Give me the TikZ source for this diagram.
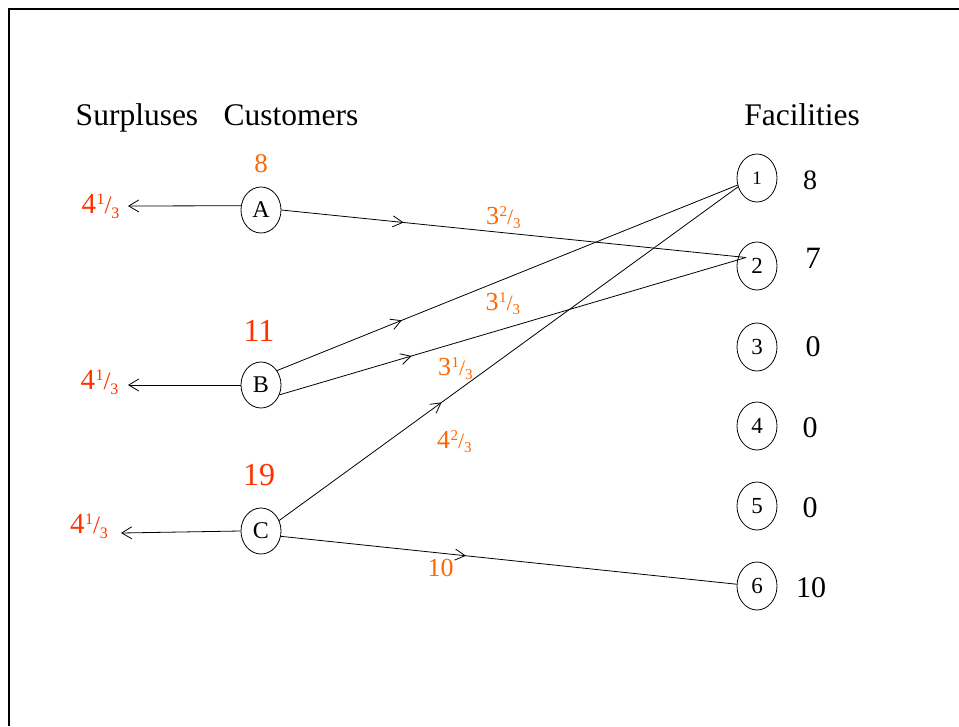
\documentclass[tikz,border=0pt]{standalone}
\usepackage{fontspec}
\setmainfont{Liberation Serif}
\usetikzlibrary{arrows.meta,decorations.markings,shapes.geometric,calc}
\definecolor{flowor}{RGB}{255,102,0}
\definecolor{surred}{RGB}{255,51,0}
% #1 big size, #2 small size, #3 slash size, #4 raise, #5 lower, #6 whole, #7 num, #8 den
\newcommand{\mixnum}[8]{{\fontsize{#1}{#1}\selectfont #6}\kern0.3pt{\fontsize{#2}{#2}\selectfont\raisebox{#4}{#7}}{\fontsize{#3}{#3}\selectfont /}{\fontsize{#2}{#2}\selectfont\raisebox{-#5}{#8}}}
\newcommand{\surp}[3]{\mixnum{29pt}{16pt}{25pt}{8.5pt}{5pt}{#1}{#2}{#3}}
\newcommand{\flw}[3]{\mixnum{26pt}{15pt}{22pt}{7.5pt}{4.5pt}{#1}{#2}{#3}}
\newcommand{\fsz}[1]{\fontsize{#1}{#1}\selectfont}
\begin{document}
\begin{tikzpicture}[x=1pt,y=-1pt,
  cust/.style={draw,ellipse,line width=0.8pt,minimum width=40pt,minimum height=46pt,inner sep=0pt,font=\fsz{24pt}},
  fac/.style={draw,ellipse,line width=0.8pt,minimum width=40pt,minimum height=48pt,inner sep=0pt,font=\fsz{23pt}},
  head/.style={font=\fsz{31.5pt},inner sep=0pt,anchor=base},
  txt/.style={inner sep=0pt,anchor=base},
  sur/.style={text=surred,inner sep=0pt,anchor=base west},
  flab/.style={text=flowor,inner sep=0pt,anchor=base west},
  link/.style={line width=0.8pt},
  midarr/.style={postaction={decorate,decoration={markings,mark=at position #1 with {\arrow{Straight Barb[length=10pt,width=11pt,line width=0.8pt]}}}}},
  outarr/.style={line width=0.8pt,-{Straight Barb[length=10pt,width=12pt,line width=0.8pt]}}
]
\useasboundingbox (0,0) rectangle (959,726);
% frame
\coordinate (fbl) at (8.5,726);
\coordinate (ftl) at (8.5,9);
\coordinate (ftr) at (959,9);
\draw[line width=2pt] (fbl) -- (ftl) -- (ftr);

% headings
\node[head] (hs) at (137,125) {Surpluses};
\node[head] (hc) at (291,125) {Customers};
\node[head] (hf) at (802,125) {Facilities};

% customers
\node[cust] (A) at (261,210) {A};
\node[cust] (B) at (261,385) {B};
\node[cust] (C) at (261,531) {C};

\node[txt,text=flowor,font=\fsz{27pt}] (dA) at (261,172.5) {8};
\node[txt,text=surred,font=\fsz{32pt}] (dB) at (259,341.5) {11};
\node[txt,text=surred,font=\fsz{32pt}] (dC) at (259,485) {19};

% facilities
\node[fac,font=\fsz{19pt}] (F1) at (757,178) {1};
\node[fac] (F2) at (757,266) {2};
\node[fac] (F3) at (757,347) {3};
\node[fac] (F4) at (757,426) {4};
\node[fac] (F5) at (757,506) {5};
\node[fac] (F6) at (757,586) {6};

\node[txt,font=\fsz{28pt}] (c1) at (810,189.3) {8};
\node[txt,font=\fsz{31pt}] (c2) at (813,268.3) {7};
\node[txt,font=\fsz{30pt}] (c3) at (813,356.7) {0};
\node[txt,font=\fsz{30pt}] (c4) at (810,437.7) {0};
\node[txt,font=\fsz{30pt}] (c5) at (810,517.3) {0};
\node[txt,font=\fsz{30pt}] (c6) at (811,597.7) {10};

% surpluses
\coordinate (eA) at (128,206);
\coordinate (eB) at (128,385);
\coordinate (eC) at (121,533);
\draw[outarr] (A.168) -- (eA);
\draw[outarr] (B.180) -- (eB);
\draw[outarr] (C.180) -- (eC);
\node[sur] (sA) at (81.5,213.3) {\surp{4}{1}{3}};
\node[sur] (sB) at (80.5,389.3) {\surp{4}{1}{3}};
\node[sur] (sC) at (70,533.3) {\surp{4}{1}{3}};

% flows
\draw[link,midarr=0.263] (A.0) -- ($(F2.center)+(-11,-8.5)$);
\draw[link,midarr=0.271] (B.42) -- (F1.200);
\draw[link,midarr=0.283] (B.-28) -- ($(F2.center)+(-11,-8.5)$);
\draw[link,midarr=0.354] (C.30) -- (F1.205);
\draw[link,midarr=0.406] (C.-15) -- (F6.175);

\node[flab] (l1) at (486,224.3) {\flw{3}{2}{3}};
\node[flab] (l2) at (485.5,310) {\flw{3}{1}{3}};
\node[flab] (l3) at (438,375) {\flw{3}{1}{3}};
\node[flab] (l4) at (437,448.3) {\flw{4}{2}{3}};
\node[flab,font=\fsz{26pt}] (l5) at (427.5,576) {10};
\end{tikzpicture}
\end{document}
